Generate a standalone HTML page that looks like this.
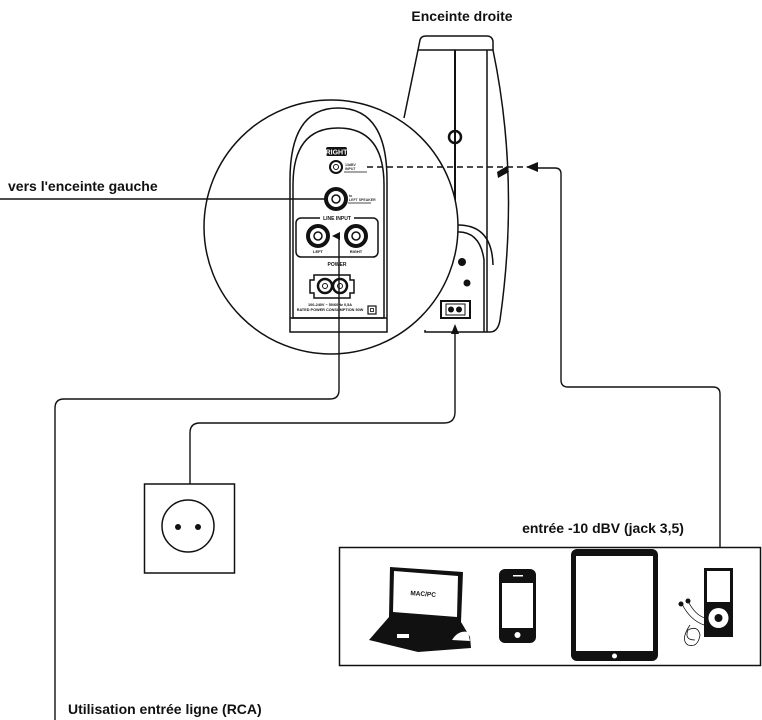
<!DOCTYPE html>
<html><head><meta charset="utf-8"><style>
html,body{margin:0;padding:0;background:#fff;}
svg{display:block;}
.b{font-family:"Liberation Sans","DejaVu Sans",sans-serif;font-weight:bold;}
</style></head><body>
<svg width="762" height="720" viewBox="0 0 762 720" xmlns="http://www.w3.org/2000/svg">
<rect width="762" height="720" fill="#fff"/>
<g fill="none" stroke="#111" stroke-width="1.5">
  <!-- right speaker body -->
  <path d="M418,50 L420,40 Q421,36 426,36 L487,36 Q492,36 493,41 L493,50"/>
  <line x1="418" y1="50" x2="493" y2="50"/>
  <path d="M418,50 L404,118"/>
  <path d="M493,50 Q520,180 500,320 Q498,332 490,332 L425,332 L425,330"/>
  <line x1="487" y1="50" x2="487" y2="332"/>
  <line x1="455" y1="50" x2="455" y2="228" stroke-width="2"/>
  <circle cx="455" cy="137" r="6" stroke-width="2.5"/>
  <path d="M455,232 Q480,230 484,260 L484,332"/>
  <path d="M458,225 Q492,225 493,265"/>
  <rect x="441" y="301" width="29" height="17" stroke-width="2"/>
  <!-- zoom circle -->
  <circle cx="331" cy="227" r="127" fill="#fff"/>
  <!-- panel -->
  <path d="M290,332 L290,180 Q290,108 338,108 Q387,108 387,180 L387,332 Z"/>
  <path d="M293,318 L293,185 Q293,128 338,128 Q384,128 384,185 L384,318 Z"/>
  <line x1="290" y1="318" x2="387" y2="318"/>
  <rect x="296" y="218" width="82" height="39" rx="5"/>
</g>
<!-- panel contents -->
<rect x="326" y="147" width="21" height="9" rx="2" fill="#111"/>
<text x="336.5" y="154.5" font-size="7" fill="#fff" text-anchor="middle" class="b">RIGHT</text>
<circle cx="336" cy="167" r="6" fill="none" stroke="#111" stroke-width="2"/>
<circle cx="336" cy="167" r="2.5" fill="none" stroke="#111" stroke-width="1"/>
<text x="345" y="166" font-size="3.5" fill="#333" class="b">13dBV</text>
<text x="345" y="170" font-size="3.5" fill="#333" class="b">INPUT</text>
<line x1="344" y1="172" x2="367" y2="172" stroke="#111" stroke-width="0.8"/>
<circle cx="336" cy="199" r="10" fill="none" stroke="#111" stroke-width="4"/>
<circle cx="336" cy="199" r="4" fill="none" stroke="#111" stroke-width="1.5"/>
<text x="349" y="197" font-size="3.5" fill="#333" class="b">to</text>
<text x="349" y="201" font-size="3.5" fill="#333" class="b">LEFT SPEAKER</text>
<line x1="348" y1="203" x2="371" y2="203" stroke="#111" stroke-width="0.8"/>
<rect x="320" y="214" width="34" height="7" fill="#fff"/>
<text x="337" y="220" font-size="5" fill="#111" text-anchor="middle" class="b">LINE INPUT</text>
<circle cx="318" cy="236" r="10" fill="none" stroke="#111" stroke-width="4"/>
<circle cx="318" cy="236" r="4" fill="none" stroke="#111" stroke-width="1.5"/>
<circle cx="356" cy="236" r="10" fill="none" stroke="#111" stroke-width="4"/>
<circle cx="356" cy="236" r="4" fill="none" stroke="#111" stroke-width="1.5"/>
<text x="318" y="253" font-size="4" fill="#111" text-anchor="middle" class="b">LEFT</text>
<text x="356" y="253" font-size="4" fill="#111" text-anchor="middle" class="b">RIGHT</text>
<text x="337" y="266" font-size="5" fill="#111" text-anchor="middle" class="b">POWER</text>
<path d="M314,275 L350,275 L350,280 L354,280 L354,293 L350,293 L350,298 L314,298 L314,293 L310,293 L310,280 L314,280 Z" fill="none" stroke="#111" stroke-width="1.5"/>
<circle cx="325" cy="286" r="7" fill="none" stroke="#111" stroke-width="2.5"/>
<circle cx="325" cy="286" r="2.5" fill="none" stroke="#111" stroke-width="1"/>
<circle cx="340" cy="286" r="7" fill="none" stroke="#111" stroke-width="2.5"/>
<circle cx="340" cy="286" r="2.5" fill="none" stroke="#111" stroke-width="1"/>
<text x="330" y="306" font-size="3.8" fill="#111" text-anchor="middle" class="b">100-240V ~ 50/60Hz 0,5A</text>
<text x="330" y="311" font-size="3.8" fill="#111" text-anchor="middle" class="b">RATED POWER CONSUMPTION 50W</text>
<rect x="368" y="306" width="8" height="8" fill="none" stroke="#111" stroke-width="1.2"/>
<rect x="370.5" y="308.5" width="3" height="3" fill="none" stroke="#111" stroke-width="0.8"/>
<!-- speaker side dark marks -->
<path d="M497,172 L507,166 L509,172 L498,178 Z" fill="#111"/>
<circle cx="462" cy="262" r="4" fill="#111"/>
<circle cx="467" cy="283" r="3.5" fill="#111"/>
<rect x="446" y="304" width="19" height="11" fill="#fff" stroke="#111"/>
<circle cx="451" cy="309.5" r="3" fill="#111"/><circle cx="459" cy="309.5" r="3" fill="#111"/>

<!-- connectors -->
<g fill="none" stroke="#111" stroke-width="1.4">
  <line x1="0" y1="199" x2="326" y2="199"/>
  <line x1="367" y1="167" x2="528" y2="167" stroke-dasharray="6,4"/>
  <path d="M536,168 L555,168 Q561,168 561,174 L561,380 Q561,387 568,387 L713,387 Q720,387 720,394 L720,547"/>
  <path d="M339,236 L339,390 Q339,399 330,399 L64,399 Q55,399 55,408 L55,720"/>
  <path d="M455,330 L455,412 Q455,423 444,423 L200,423 Q190,423 190,433 L190,484"/>
</g>
<path d="M526,167 L538,162 L538,172 Z" fill="#111"/>
<path d="M455,324 L451,334 L459,334 Z" fill="#111"/>
<path d="M332,236 L340,232 L340,240 Z" fill="#111"/>

<!-- socket -->
<rect x="144.5" y="484" width="90" height="89" fill="none" stroke="#111" stroke-width="1.5"/>
<circle cx="188" cy="526" r="26" fill="none" stroke="#111" stroke-width="1.5"/>
<circle cx="178" cy="527" r="3" fill="#111"/><circle cx="198" cy="527" r="3" fill="#111"/>

<!-- device box -->
<rect x="339.5" y="547.5" width="421" height="118" fill="none" stroke="#111" stroke-width="1.5"/>
<!-- laptop -->
<path d="M390,567 L463,572 L461,622 L470,637 L471,648 L418,652 L369,640 L389,617 Z" fill="#111"/>
<path d="M394,571 L458,576 L457,617 L393,612 Z" fill="#fff"/>
<text x="423" y="596" font-size="6.5" fill="#111" text-anchor="middle" font-family="Liberation Sans,sans-serif" font-weight="bold" transform="rotate(4 423 596)">MAC/PC</text>
<rect x="397" y="634" width="12" height="4" fill="#fff"/>
<path d="M452,640 Q458,630 468,632 L470,641 Z" fill="#fff"/>
<!-- phone -->
<rect x="499" y="569" width="37" height="74" rx="6" fill="#111"/>
<rect x="502" y="583" width="31" height="45" fill="#fff"/>
<circle cx="517.5" cy="635" r="3" fill="#fff"/>
<rect x="513" y="575" width="10" height="1.5" fill="#fff"/>
<!-- tablet -->
<rect x="571" y="549" width="87" height="112" rx="6" fill="#111"/>
<rect x="576" y="556" width="77" height="95" fill="#fff"/>
<circle cx="614.5" cy="656" r="2.5" fill="#fff"/>
<!-- ipod -->
<rect x="704" y="568" width="29" height="69" fill="#111"/>
<rect x="707" y="571" width="23" height="31" fill="#fff"/>
<circle cx="718.5" cy="618" r="10" fill="#fff"/>
<circle cx="718.5" cy="618" r="4" fill="#111"/>
<g fill="none" stroke="#111" stroke-width="0.8">
  <path d="M682,604 Q690,620 704,625"/><path d="M688,601 Q695,615 705,618"/>
  <path d="M690,625 Q680,640 688,645 Q698,648 700,635 Q698,625 688,630 Q684,640 695,640"/>
</g>
<circle cx="681" cy="604" r="2.5" fill="#111"/><circle cx="688" cy="601" r="2.5" fill="#111"/>

<!-- labels -->
<text x="462" y="21" font-size="14" fill="#111" text-anchor="middle" class="b">Enceinte droite</text>
<text x="8" y="191" font-size="14" fill="#111" class="b">vers l'enceinte gauche</text>
<text x="603" y="533" font-size="14" fill="#111" text-anchor="middle" class="b">entrée -10 dBV (jack 3,5)</text>
<text x="68" y="714" font-size="14" fill="#111" class="b">Utilisation entrée ligne (RCA)</text>
</svg>
</body></html>
